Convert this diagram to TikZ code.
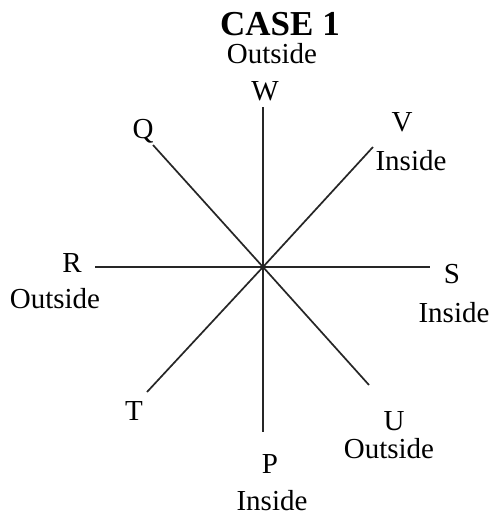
\documentclass[tikz,border=0pt]{standalone}
\usepackage{fontspec}
\setmainfont{Liberation Serif}
\begin{document}
\begin{tikzpicture}[x=1pt,y=-1pt,
  lbl/.style={inner sep=0pt,anchor=base,font=\fontsize{29}{30}\selectfont},
  ttl/.style={inner sep=0pt,anchor=base,font=\fontsize{35}{36}\selectfont\bfseries},
  ray/.style={line width=1.7pt,black!85}]
\useasboundingbox[fill=white] (0,0) rectangle (492,515);
\coordinate (O) at (263,267);
\coordinate (w) at (263,107);
\coordinate (p) at (263,432);
\coordinate (r) at (95,267);
\coordinate (s) at (430,267);
\coordinate (q) at (153,145);
\coordinate (u) at (369,385);
\coordinate (v) at (373,147);
\coordinate (t) at (147,392);
\draw[ray] (O) -- (w);
\draw[ray] (O) -- (p);
\draw[ray] (O) -- (r);
\draw[ray] (O) -- (s);
\draw[ray] (O) -- (q);
\draw[ray] (O) -- (u);
\draw[ray] (O) -- (v);
\draw[ray] (O) -- (t);
\node[ttl] (title) at (280,35) {CASE 1};
\node[lbl] (wo) at (272,63) {Outside};
\node[lbl] (W) at (265,100) {W};
\node[lbl] (Q) at (143,138) {Q};
\node[lbl] (V) at (402,131) {V};
\node[lbl] (vi) at (411,170) {Inside};
\node[lbl] (R) at (72,272) {R};
\node[lbl] (ro) at (55,308) {Outside};
\node[lbl] (S) at (452,283) {S};
\node[lbl] (si) at (454,322) {Inside};
\node[lbl] (T) at (134,420) {T};
\node[lbl] (U) at (394,430) {U};
\node[lbl] (uo) at (389,458) {Outside};
\node[lbl] (P) at (270,473) {P};
\node[lbl] (pi) at (272,510) {Inside};
\end{tikzpicture}
\end{document}
